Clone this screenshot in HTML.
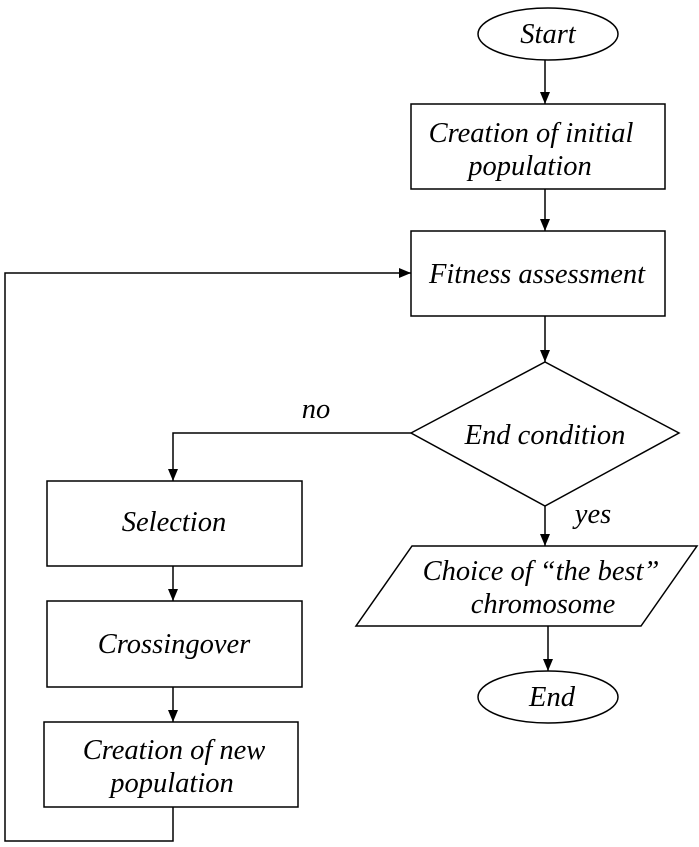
<!DOCTYPE html>
<html><head><style>body{margin:0;background:#fff}svg{display:block}text{font-family:"Liberation Serif",serif;font-style:italic;font-size:28.5px;fill:#000}</style></head><body>
<svg width="699" height="847" viewBox="0 0 699 847">
<defs><marker id="a" markerWidth="12" markerHeight="10" refX="12" refY="5" orient="auto" markerUnits="userSpaceOnUse"><path d="M0,0 L12,5 L0,10 Z" fill="#000"/></marker></defs>
<g fill="none" stroke="#000" stroke-width="1.5">
<ellipse cx="548" cy="34" rx="70" ry="26"/>
<rect x="411" y="104" width="254" height="85"/>
<rect x="411" y="231" width="254" height="85"/>
<polygon points="411,433 545,362 679,433 545,506"/>
<polygon points="412,546 697,546 641,626 356,626"/>
<ellipse cx="548" cy="697" rx="70" ry="26"/>
<rect x="47" y="481" width="255" height="85"/>
<rect x="47" y="601" width="255" height="86"/>
<rect x="44" y="722" width="254" height="85"/>
<line x1="545" y1="60" x2="545" y2="104" marker-end="url(#a)"/>
<line x1="545" y1="189" x2="545" y2="231" marker-end="url(#a)"/>
<line x1="545" y1="316" x2="545" y2="362" marker-end="url(#a)"/>
<line x1="545" y1="506" x2="545" y2="546" marker-end="url(#a)"/>
<line x1="548" y1="626" x2="548" y2="671" marker-end="url(#a)"/>
<polyline points="411,433 173,433 173,481" marker-end="url(#a)"/>
<line x1="173" y1="566" x2="173" y2="601" marker-end="url(#a)"/>
<line x1="173" y1="687" x2="173" y2="722" marker-end="url(#a)"/>
<polyline points="173,807 173,841 5,841 5,273 411,273" marker-end="url(#a)"/>
</g>
<g text-anchor="middle">
<text x="548" y="43">Start</text>
<text x="531" y="142">Creation of initial</text>
<text x="530" y="175">population</text>
<text x="537" y="283">Fitness assessment</text>
<text x="545" y="444">End condition</text>
<text x="541" y="580">Choice of “the best”</text>
<text x="543" y="613">chromosome</text>
<text x="552" y="706">End</text>
<text x="174" y="531">Selection</text>
<text x="174" y="653">Crossingover</text>
<text x="174" y="759">Creation of new</text>
<text x="172" y="792">population</text>
<text x="316" y="418">no</text>
<text x="593" y="523">yes</text>
</g>
</svg>
</body></html>
